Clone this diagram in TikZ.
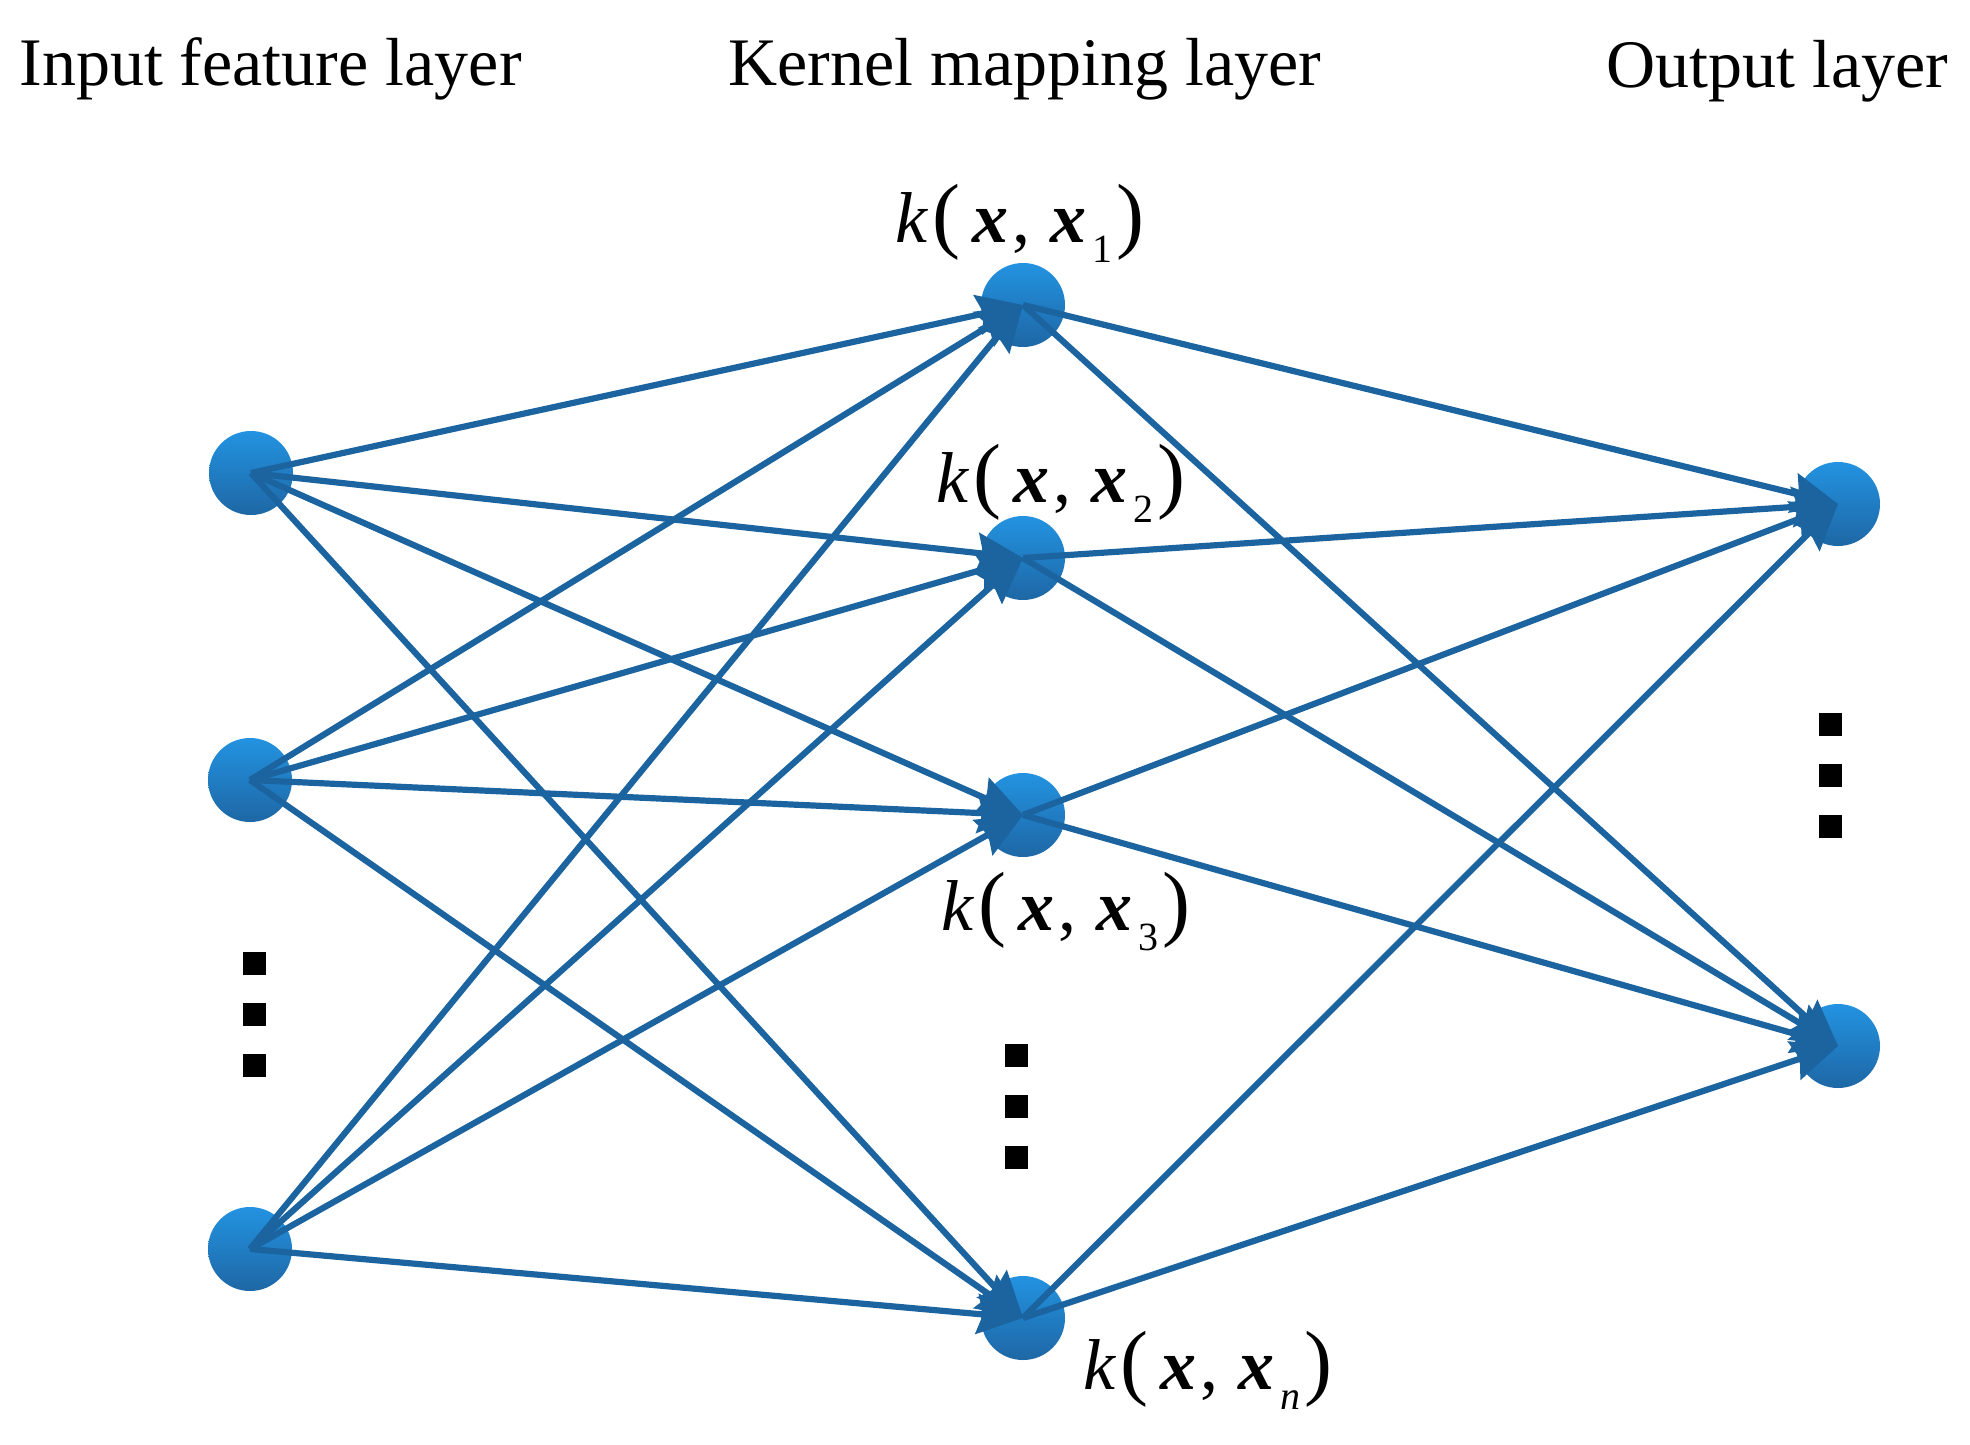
\documentclass[tikz,border=0pt]{standalone}
\usepackage{fontspec}
\setmainfont{Liberation Serif}
\usetikzlibrary{arrows.meta}
\definecolor{linec}{RGB}{27,100,160}
\definecolor{ntop}{RGB}{35,147,225}
\definecolor{nbot}{RGB}{30,103,165}
\newcommand\kpar[1]{{\fontsize{42}{44}\selectfont #1}}
\newcommand\kxlab[1]{\fontsize{36}{40}\selectfont\textit{k}\hspace{2pt}\kpar{(}\hspace{6pt}\textbf{\textit{x}}\hspace{2pt},\hspace{10pt}\textbf{\textit{x}}\hspace{3pt}\raisebox{-10pt}{\fontsize{20}{20}\selectfont #1}\hspace{2pt}\kpar{)}}
\begin{document}
\begin{tikzpicture}[x=0.5pt,y=-0.5pt,
  neuron/.style={circle, minimum size=42pt, inner sep=0pt, top color=ntop, bottom color=nbot, draw=none},
  conn/.style={draw=linec, line width=3.1pt, -{Stealth[length=23pt,width=20pt,inset=3pt]}},
  dotsq/.style={rectangle, fill=black, minimum size=11.5pt, inner sep=0pt},
  title/.style={anchor=base west, inner sep=0pt, font=\fontsize{34}{40}\selectfont},
  klab/.style={anchor=base west, inner sep=0pt}]
\fill[white] (0,0) rectangle (1970,1445);
\useasboundingbox (0,0) rectangle (1970,1445);
% titles
\node[title] (t1) at (19,86) {Input feature layer};
\node[title] (t2) at (728,86) {Kernel mapping layer};
\node[title] (t3) at (1606,88) {Output layer};
% neurons
\node[neuron] (i1) at (251,473) {};
\node[neuron] (i2) at (250,780) {};
\node[neuron] (i3) at (250,1249) {};
\node[neuron] (k1) at (1023,305) {};
\node[neuron] (k2) at (1023,558) {};
\node[neuron] (k3) at (1023,815) {};
\node[neuron] (kn) at (1023,1318) {};
\node[neuron] (o1) at (1838,504) {};
\node[neuron] (o2) at (1838,1046) {};
% dots
\node[dotsq] (d1) at (254,963) {};
\node[dotsq] (d2) at (254,1014) {};
\node[dotsq] (d3) at (254,1065) {};
\node[dotsq] (e1) at (1016,1055) {};
\node[dotsq] (e2) at (1016,1106) {};
\node[dotsq] (e3) at (1016,1157) {};
\node[dotsq] (f1) at (1830,724) {};
\node[dotsq] (f2) at (1830,775) {};
\node[dotsq] (f3) at (1830,826) {};
% connections
\foreach \s in {i1,i2,i3}{
  \foreach \t in {k1,k2,k3,kn}{
    \draw[conn] (\s.center) -- (\t.center);
  }
}
\foreach \s in {k1,k2,k3,kn}{
  \foreach \t in {o1,o2}{
    \draw[conn] (\s.center) -- (\t.center);
  }
}
% labels
\node[klab] (l1) at (895,242) {\kxlab{1}};
\node[klab] (l2) at (936,502) {\kxlab{2}};
\node[klab] (l3) at (941,930) {\kxlab{3}};
\node[klab] (ln) at (1083,1389) {\kxlab{\textit{n}}};
\end{tikzpicture}
\end{document}
